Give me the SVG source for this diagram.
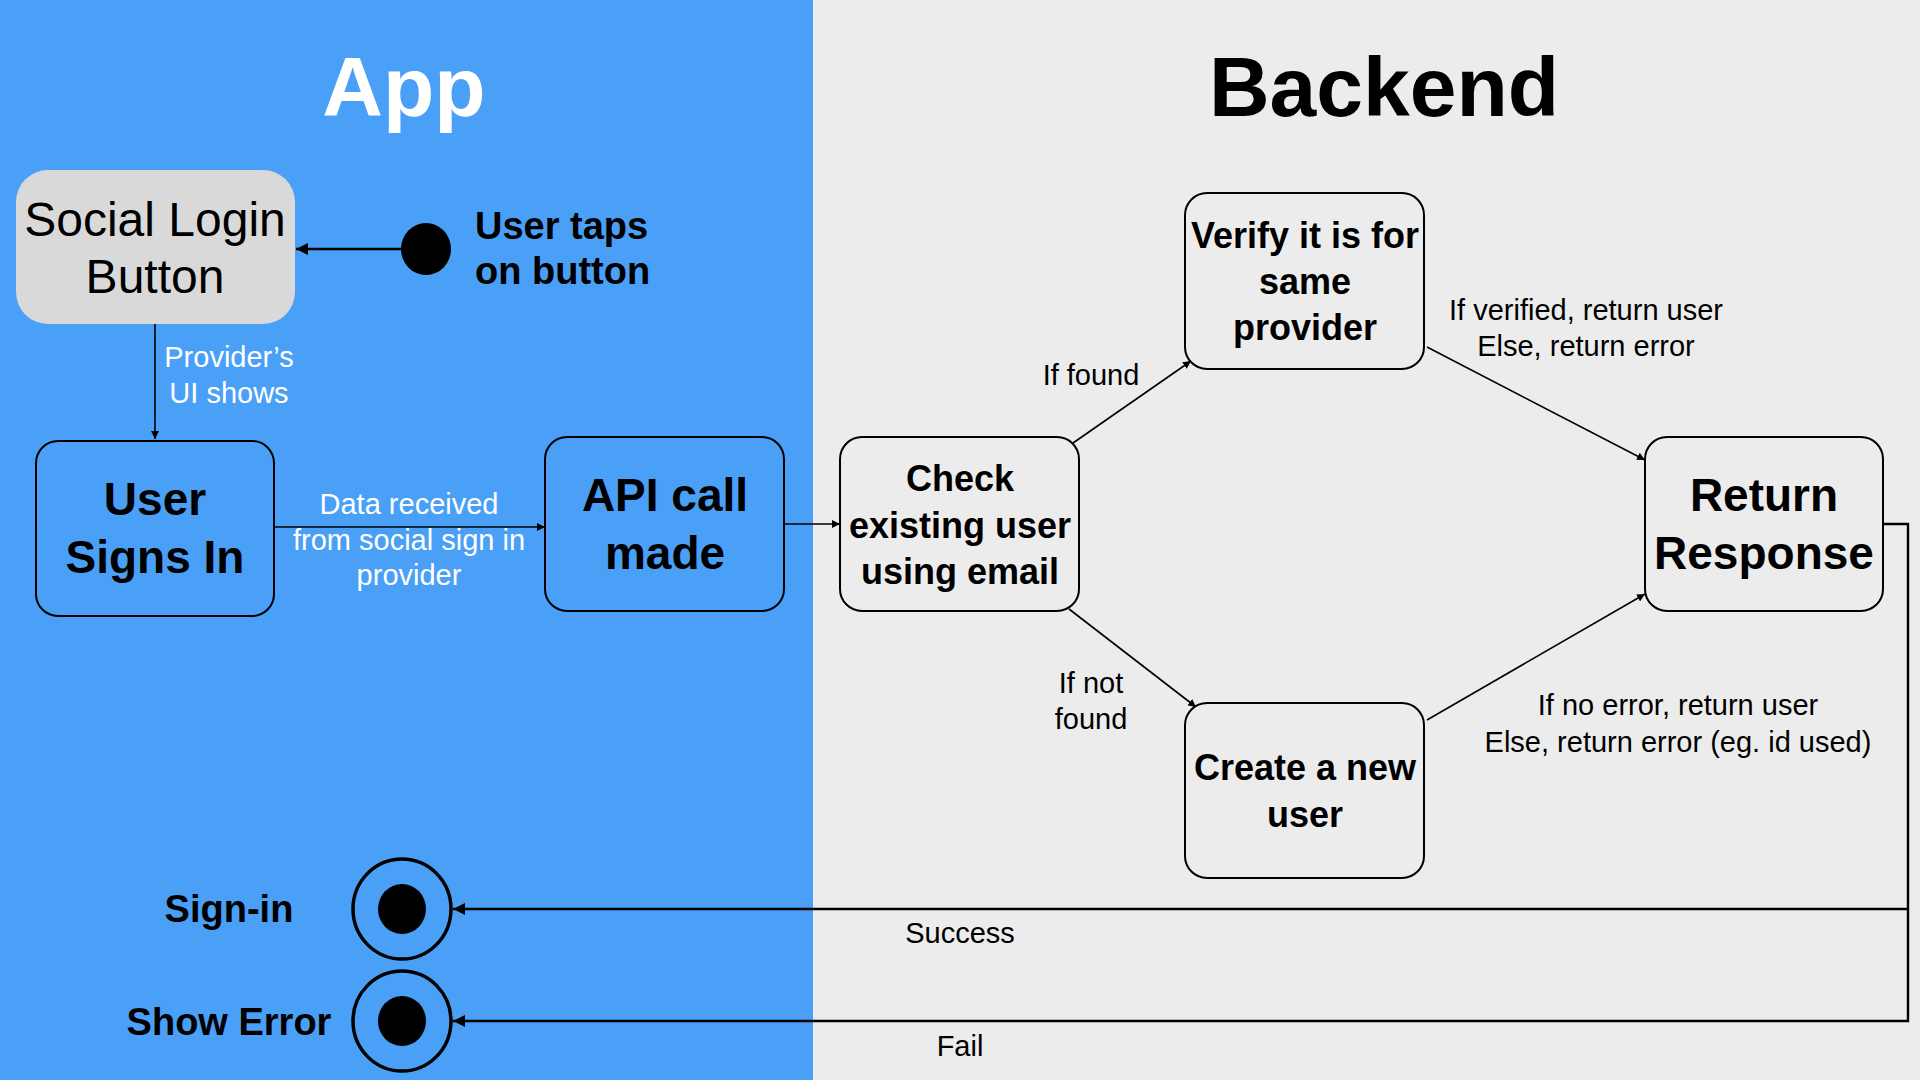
<svg xmlns="http://www.w3.org/2000/svg" width="1920" height="1080" viewBox="0 0 1920 1080">
<defs>
<marker id="ah" viewBox="0 0 10 10" refX="10" refY="5" markerWidth="8" markerHeight="8" markerUnits="userSpaceOnUse" orient="auto"><path d="M0,0 L10,5 L0,10 z" fill="#000"/></marker>
<marker id="ahb" viewBox="0 0 10 10" refX="10" refY="5" markerWidth="12" markerHeight="12" markerUnits="userSpaceOnUse" orient="auto"><path d="M0,0 L10,5 L0,10 z" fill="#000"/></marker>
</defs>
<style>
text{font-family:"Liberation Sans",Arial,Helvetica,sans-serif;text-anchor:middle}
.box{stroke:#000;stroke-width:2}
.blue{fill:#4a9ff6}
.gray{fill:#ececec}
.big{font-size:46px;font-weight:bold}
.mid{font-size:36px;font-weight:bold}
.lbl{font-size:29px}
.wl{font-size:29px;fill:#fff}
.conn{stroke:#000;stroke-width:1.6;fill:none;marker-end:url(#ah)}
.ret{stroke:#000;stroke-width:2.4;fill:none}
.ttl{font-size:84px;font-weight:bold}
</style>
<rect x="0" y="0" width="813" height="1080" class="blue"/>
<rect x="813" y="0" width="1107" height="1080" class="gray"/>
<text x="404" y="116" class="ttl" fill="#fff">App</text>
<text x="1384" y="116" class="ttl" fill="#000">Backend</text>

<g id="connectors">
<path class="conn" d="M402,249 L296,249" style="stroke-width:2.4;marker-end:url(#ahb)"/>
<path class="conn" d="M155,324 L155,439"/>
<path class="conn" d="M274,527 L545,527"/>
<path class="conn" d="M784,524 L840,524"/>
<path class="conn" d="M1073,443 L1191,361"/>
<path class="conn" d="M1427,347 L1645,460"/>
<path class="conn" d="M1069,609 L1196,707"/>
<path class="conn" d="M1427,720 L1645,594"/>
<path class="ret" d="M1883,524 L1908,524 L1908,1021 L453,1021" marker-end="url(#ahb)"/>
<path class="ret" d="M1908,909 L453,909" marker-end="url(#ahb)"/>
<text x="229" y="367" class="wl">Provider’s</text>
<text x="229" y="403" class="wl">UI shows</text>
<text x="409" y="514" class="wl">Data received</text>
<text x="409" y="550" class="wl">from social sign in</text>
<text x="409" y="585" class="wl">provider</text>
<text x="1091" y="385" class="lbl">If found</text>
<text x="1586" y="320" class="lbl">If verified, return user</text>
<text x="1586" y="356" class="lbl">Else, return error</text>
<text x="1091" y="693" class="lbl">If not</text>
<text x="1091" y="729" class="lbl">found</text>
<text x="1678" y="715" class="lbl">If no error, return user</text>
<text x="1678" y="752" class="lbl">Else, return error (eg. id used)</text>
<text x="960" y="943" class="lbl">Success</text>
<text x="960" y="1056" class="lbl">Fail</text>
</g>

<g id="social-login">
<rect x="16" y="170" width="279" height="154" rx="32" fill="#d9d9d9"/>
<text x="155" y="236" style="font-size:48px">Social Login</text>
<text x="155" y="293" style="font-size:48px">Button</text>
</g>

<g id="start">
<ellipse cx="426" cy="249" rx="25" ry="26" fill="#000"/>
<text x="475" y="239" style="font-size:38px;font-weight:bold;text-anchor:start">User taps</text>
<text x="475" y="284" style="font-size:38px;font-weight:bold;text-anchor:start">on button</text>
</g>

<g id="user-signs-in">
<rect x="36" y="441" width="238" height="175" rx="22" class="box blue"/>
<text x="155" y="515" class="big">User</text>
<text x="155" y="573" class="big">Signs In</text>
</g>

<g id="api-call">
<rect x="545" y="437" width="239" height="174" rx="22" class="box blue"/>
<text x="665" y="511" class="big">API call</text>
<text x="665" y="569" class="big">made</text>
</g>

<g id="check-user">
<rect x="840" y="437" width="239" height="174" rx="22" class="box gray"/>
<text x="960" y="491" class="mid">Check</text>
<text x="960" y="538" class="mid">existing user</text>
<text x="960" y="584" class="mid">using email</text>
</g>

<g id="verify">
<rect x="1185" y="193" width="239" height="176" rx="22" class="box gray"/>
<text x="1305" y="248" class="mid">Verify it is for</text>
<text x="1305" y="294" class="mid">same</text>
<text x="1305" y="340" class="mid">provider</text>
</g>

<g id="return-response">
<rect x="1645" y="437" width="238" height="174" rx="22" class="box gray"/>
<text x="1764" y="511" class="big">Return</text>
<text x="1764" y="569" class="big">Response</text>
</g>

<g id="create-user">
<rect x="1185" y="703" width="239" height="175" rx="22" class="box gray"/>
<text x="1305" y="780" class="mid">Create a new</text>
<text x="1305" y="827" class="mid">user</text>
</g>

<g id="end-signin">
<ellipse cx="402" cy="909" rx="49" ry="50" fill="none" stroke="#000" stroke-width="3.5"/>
<ellipse cx="402" cy="909" rx="24" ry="25" fill="#000"/>
<text x="229" y="922" style="font-size:38px;font-weight:bold">Sign-in</text>
</g>

<g id="end-error">
<ellipse cx="402" cy="1021" rx="49" ry="50" fill="none" stroke="#000" stroke-width="3.5"/>
<ellipse cx="402" cy="1021" rx="24" ry="25" fill="#000"/>
<text x="229" y="1035" style="font-size:38px;font-weight:bold">Show Error</text>
</g>
</svg>
